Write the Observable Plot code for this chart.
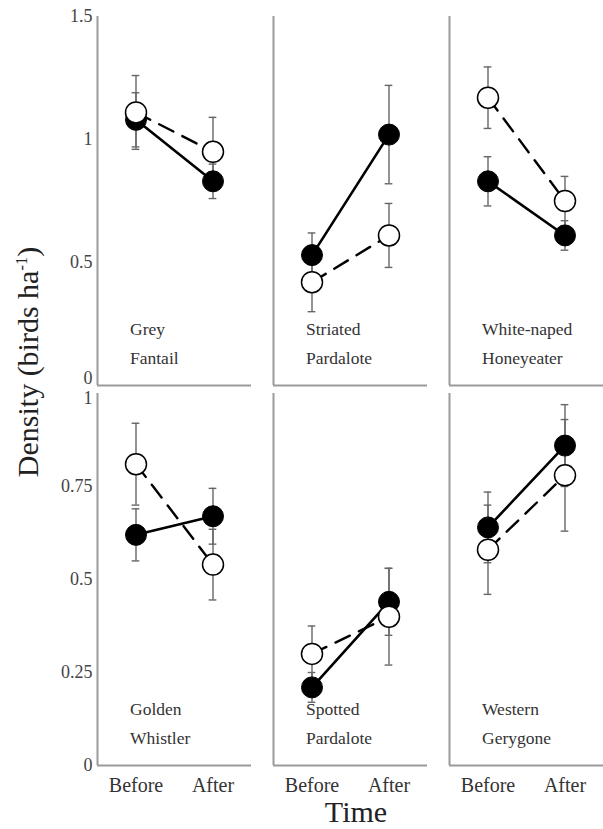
<!DOCTYPE html>
<html>
<head>
<meta charset="utf-8">
<script src="https://cdn.jsdelivr.net/npm/d3@7"></script>
<script src="https://cdn.jsdelivr.net/npm/@observablehq/plot@0.6"></script>
<style>
  html, body { margin: 0; padding: 0; background: #fff; }
  #chart { position: relative; width: 603px; height: 829px; overflow: hidden; }
  .ylab { position: absolute; left: 28px; top: 362px; transform: translate(-50%, -50%) rotate(-90deg);
          font-family: "Liberation Serif", "Times New Roman", serif; font-size: 30px; color: #222; white-space: nowrap; }
  .xlab { position: absolute; left: 356px; top: 812px; transform: translate(-50%, -50%);
          font-family: "Liberation Serif", "Times New Roman", serif; font-size: 30px; color: #222; white-space: nowrap; }
  sup { font-size: 0.55em; }
</style>
</head>
<body>
<div id="chart"></div>
<script>
// ---- data ----
const times = ["Before", "After"];
const topSpecies = ["Grey Fantail", "Striated Pardalote", "White-naped Honeyeater"];
const topLine1 = ["Grey", "Striated", "White-naped"];
const topLine2 = ["Fantail", "Pardalote", "Honeyeater"];
const bottomSpecies = ["Golden Whistler", "Spotted Pardalote", "Western Gerygone"];
const bottomLine1 = ["Golden", "Spotted", "Western"];
const bottomLine2 = ["Whistler", "Pardalote", "Gerygone"];

// [Before, After] per species
const filledMeanTop = [[1.08, 0.83], [0.53, 1.02], [0.83, 0.61]];
const filledSETop   = [[0.11, 0.07], [0.09, 0.20], [0.10, 0.06]];
const openMeanTop   = [[1.11, 0.95], [0.42, 0.61], [1.17, 0.75]];
const openSETop     = [[0.15, 0.14], [0.12, 0.13], [0.125, 0.10]];

const filledMeanBottom = [[0.62, 0.67], [0.21, 0.44], [0.64, 0.86]];
const filledSEBottom   = [[0.07, 0.075], [0.04, 0.09], [0.095, 0.11]];
const openMeanBottom   = [[0.81, 0.54], [0.30, 0.40], [0.58, 0.78]];
const openSEBottom     = [[0.11, 0.095], [0.075, 0.13], [0.12, 0.15]];

const topTicks = [0, 0.5, 1, 1.5];
const bottomTicks = [0, 0.25, 0.5, 0.75, 1];

const FONT = '"Liberation Serif", "Times New Roman", serif';

function rows(species, means, ses, group) {
  const out = [];
  species.forEach((s, i) => {
    times.forEach((t, j) => {
      out.push({species: s, group, time: t, t: j + 1, mean: means[i][j],
                lo: means[i][j] - ses[i][j], hi: means[i][j] + ses[i][j]});
    });
  });
  return out;
}

function labels(species, l1, l2) {
  return species.map((s, i) => ({species: s, t: 1, line1: l1[i], line2: l2[i]}));
}

function panelRow({species, filled, open, labs, yDomain, yTicks, edgeTick, edgeDy, height, marginTop, marginBottom, showX}) {
  const all = filled.concat(open);
  const inner = yTicks.filter(d => d !== edgeTick);
  const marks = [
    Plot.ruleX([0.5], {stroke: "#9a9a9a", strokeWidth: 2}),
    Plot.ruleY([0], {stroke: "#9a9a9a", strokeWidth: 2}),
    Plot.axisY({ticks: inner, tickFormat: d => String(d), tickSize: 0, tickPadding: 5,
                fontSize: 18, fill: "#444", label: null}),
    Plot.axisY({ticks: [edgeTick], tickFormat: d => String(d), tickSize: 0, tickPadding: 5,
                fontSize: 18, fill: "#444", label: null, dy: edgeDy}),
    Plot.ruleX(all, {fx: "species", x: "t", y1: "lo", y2: "hi", stroke: "#666", strokeWidth: 1.4}),
    Plot.ruleY(all, {fx: "species", y: "lo", x1: d => d.t - 0.05, x2: d => d.t + 0.05, stroke: "#666", strokeWidth: 1.4}),
    Plot.ruleY(all, {fx: "species", y: "hi", x1: d => d.t - 0.05, x2: d => d.t + 0.05, stroke: "#666", strokeWidth: 1.4}),
    Plot.line(filled, {fx: "species", x: "t", y: "mean", stroke: "#000", strokeWidth: 2.6}),
    Plot.line(open, {fx: "species", x: "t", y: "mean", stroke: "#000", strokeWidth: 2.4, strokeDasharray: "16,10"}),
    Plot.dot(filled, {fx: "species", x: "t", y: "mean", r: 10.5, fill: "#000", stroke: "#000", strokeWidth: 1}),
    Plot.dot(open, {fx: "species", x: "t", y: "mean", r: 10.5, fill: "#fff", stroke: "#000", strokeWidth: 1.5}),
    Plot.text(labs, {fx: "species", x: "t", text: "line1", frameAnchor: "bottom", dy: -51, dx: -6,
                     textAnchor: "start", fontSize: 17.5, fill: "#333"}),
    Plot.text(labs, {fx: "species", x: "t", text: "line2", frameAnchor: "bottom", dy: -22, dx: -6,
                     textAnchor: "start", fontSize: 17.5, fill: "#333"})
  ];
  if (showX) {
    marks.push(Plot.axisX({ticks: [1, 2], tickFormat: d => times[d - 1], tickSize: 0, tickPadding: 12,
                           fontSize: 20, fill: "#333", label: null}));
  }
  return Plot.plot({
    width: 603, height, marginTop, marginBottom, marginLeft: 96, marginRight: 0,
    style: {fontFamily: FONT, background: "transparent", overflow: "visible"},
    fx: {domain: species, axis: null, paddingInner: 0.1275, paddingOuter: 0},
    x: {domain: [0.5, 2.5], axis: showX ? undefined : null},
    y: {domain: yDomain},
    marks
  });
}

const chart = document.getElementById("chart");

const topPlot = panelRow({
  species: topSpecies,
  filled: rows(topSpecies, filledMeanTop, filledSETop, "filled"),
  open: rows(topSpecies, openMeanTop, openSETop, "open"),
  labs: labels(topSpecies, topLine1, topLine2),
  yDomain: [0, 1.5], yTicks: topTicks, edgeTick: 0, edgeDy: -7,
  height: 396, marginTop: 16, marginBottom: 11, showX: false
});
topPlot.style.position = "absolute";
topPlot.style.left = "0px";
topPlot.style.top = "0px";

const bottomPlot = panelRow({
  species: bottomSpecies,
  filled: rows(bottomSpecies, filledMeanBottom, filledSEBottom, "filled"),
  open: rows(bottomSpecies, openMeanBottom, openSEBottom, "open"),
  labs: labels(bottomSpecies, bottomLine1, bottomLine2),
  yDomain: [0, 1], yTicks: bottomTicks, edgeTick: 1, edgeDy: 5,
  height: 449, marginTop: 13, marginBottom: 64, showX: true
});
bottomPlot.style.position = "absolute";
bottomPlot.style.left = "0px";
bottomPlot.style.top = "380px";

chart.appendChild(topPlot);
chart.appendChild(bottomPlot);

const ylab = document.createElement("div");
ylab.className = "ylab";
ylab.innerHTML = "Density (birds ha<sup>-1</sup>)";
chart.appendChild(ylab);

const xlab = document.createElement("div");
xlab.className = "xlab";
xlab.textContent = "Time";
chart.appendChild(xlab);
</script>
</body>
</html>
